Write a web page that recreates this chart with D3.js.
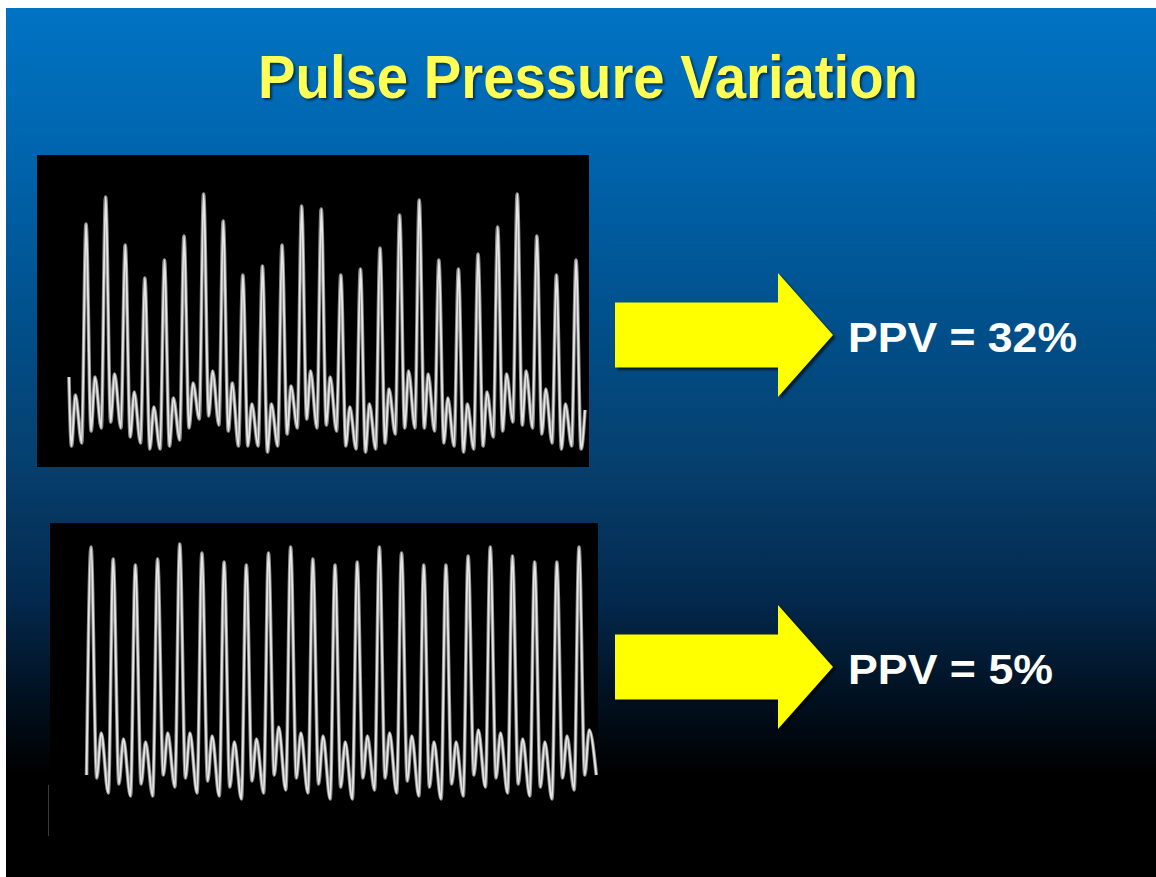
<!DOCTYPE html>
<html>
<head>
<meta charset="utf-8">
<script src="https://cdn.jsdelivr.net/npm/d3@7/dist/d3.min.js"></script>
<style>
  html, body { margin: 0; padding: 0; background: #ffffff; }
  svg { display: block; }
</style>
</head>
<body>
<script>
// ---------------- DATA ----------------
const title = "Pulse Pressure Variation";
const ppvLabels = ["PPV = 32%", "PPV = 5%"];

// Upper trace (high PPV): per-beat levels, arbitrary pressure units
const topSystolic  = [131,140,124,113,119,127,141,132,114,117,124,137,136,114,116,123,134,139,119,116,121,130,141,127,114,119];
const topNotch     = [ 62, 65, 60, 56, 57, 63, 67, 62, 57, 55, 61, 66, 64, 57, 55, 58, 63, 63, 58, 55, 57, 62, 64, 61, 56, 56];
const topDicrotic  = [ 80, 81, 75, 70, 73, 78, 82, 78, 71, 71, 77, 82, 80, 70, 71, 76, 82, 81, 73, 71, 75, 81, 82, 76, 71, 69];
const topDiastolic = [ 63, 63, 58, 56, 59, 66, 64, 57, 57, 57, 63, 63, 62, 56, 56, 61, 63, 62, 57, 56, 60, 65, 63, 58, 57, null];
const topLeadIn    = [80, 57, 74, 58];   // partial beat before the first upstroke

// Lower trace (low PPV)
const botSystolic  = [146,142,140,142,147,144,141,140,144,146,142,140,141,146,144,140,140,143,146,143,141,141,146];
const botNotch     = [ 69, 67, 67, 70, 69, 68, 66, 68, 70, 69, 67, 66, 69, 69, 68, 66, 67, 70, 69, 67, 66, 69, 70];
const botDicrotic  = [ 84, 82, 81, 84, 84, 83, 81, 82, 86, 84, 83, 81, 83, 84, 83, 81, 81, 85, 84, 82, 81, 83, 85];
const botDiastolic = [ 64, 63, 63, 66, 64, 63, 62, 64, 65, 64, 62, 62, 65, 64, 63, 62, 63, 66, 64, 63, 62, 65, 70];
const botLeadIn    = [70];

// ---------------- LAYOUT ----------------
const W = 1156, H = 877;
const phase = { notch: 0.26, dicrotic: 0.46, diastolic: 0.78 };
const topLeadPhases = [-0.87, -0.74, -0.54, -0.22];
const botLeadPhases = [-0.2];

const svg = d3.select("body").append("svg").attr("width", W).attr("height", H);
const defs = svg.append("defs");

const grad = defs.append("linearGradient").attr("id", "bg")
  .attr("x1", 0).attr("y1", 0).attr("x2", 0).attr("y2", 1);
[[0, "#0073C2"], [0.15, "#0066B0"], [0.35, "#00518D"], [0.52, "#06406F"],
 [0.68, "#03294D"], [0.80, "#010F1E"], [0.88, "#000000"], [1, "#000000"]]
  .forEach(([o, c]) => grad.append("stop").attr("offset", o).attr("stop-color", c));

const blur = defs.append("filter").attr("id", "soft").attr("x", "-5%").attr("y", "-5%")
  .attr("width", "110%").attr("height", "110%");
blur.append("feGaussianBlur").attr("stdDeviation", 0.45);

const shadow = defs.append("filter").attr("id", "shadow").attr("x", "-10%").attr("y", "-10%")
  .attr("width", "120%").attr("height", "130%");
shadow.append("feGaussianBlur").attr("stdDeviation", 1.2);

// slide background
svg.append("rect").attr("x", 6).attr("y", 8).attr("width", W - 6).attr("height", H - 8)
  .attr("fill", "url(#bg)");

// title
const titleFont = "'Liberation Sans Narrow','Arial Narrow','Liberation Sans',Arial,sans-serif";
[["rgba(0,0,0,0.55)", 2, "url(#shadow)"], ["#FFFF55", 0, null]].forEach(([fill, off, f]) => {
  svg.append("text").attr("x", 258 + off).attr("y", 98 + off)
    .attr("font-family", titleFont).attr("font-weight", "bold").attr("font-size", 61)
    .attr("textLength", 660).attr("lengthAdjust", "spacingAndGlyphs")
    .attr("fill", fill).attr("filter", f).text(title);
});

// panels
svg.append("rect").attr("x", 37).attr("y", 155).attr("width", 552).attr("height", 312).attr("fill", "#000");
svg.append("rect").attr("x", 50).attr("y", 523).attr("width", 548).attr("height", 354).attr("fill", "#000");
svg.append("line").attr("x1", 48.5).attr("x2", 48.5).attr("y1", 785).attr("y2", 836)
  .attr("stroke", "#3a3a3a").attr("stroke-width", 1);

// scales
const topX = d3.scaleLinear().domain([0, topSystolic.length - 1]).range([86, 576]);
const topY = d3.scaleLinear().domain([50, 154]).range([467, 155]);
const botX = d3.scaleLinear().domain([0, botSystolic.length - 1]).range([91, 579]);
const botY = d3.scaleLinear().domain([50, 154]).range([835, 523]);

function buildPoints(lead, leadPh, sys, notch, dic, dia) {
  const pts = lead.map((v, i) => ({ t: leadPh[i], v }));
  sys.forEach((s, i) => {
    pts.push({ t: i, v: s });
    if (notch[i] != null) pts.push({ t: i + phase.notch, v: notch[i] });
    if (dic[i] != null) pts.push({ t: i + phase.dicrotic, v: dic[i] });
    if (dia[i] != null) pts.push({ t: i + phase.diastolic, v: dia[i] });
  });
  return pts;
}

function drawTrace(pts, x, y) {
  const line = d3.line().x(d => x(d.t)).y(d => y(d.v)).curve(d3.curveMonotoneX);
  const g = svg.append("g").attr("filter", "url(#soft)");
  g.append("path").attr("d", line(pts)).attr("fill", "none")
    .attr("stroke", "#8a8a8a").attr("stroke-width", 3.6).attr("stroke-linejoin", "round");
  g.append("path").attr("d", line(pts)).attr("fill", "none")
    .attr("stroke", "#e6e6e6").attr("stroke-width", 1.8).attr("stroke-linejoin", "round");
}

drawTrace(buildPoints(topLeadIn, topLeadPhases, topSystolic, topNotch, topDicrotic, topDiastolic), topX, topY);
drawTrace(buildPoints(botLeadIn, botLeadPhases, botSystolic, botNotch, botDicrotic, botDiastolic), botX, botY);

// arrows + labels
const arrowCenters = [335, 667];
const labelBaselines = [352, 684];
const labelWidths = [229, 205];
function arrowPoly(cy) {
  const x0 = 615, x1 = 778, tip = 833, bh = 32.5, hh = 62;
  return [[x0, cy - bh], [x1, cy - bh], [x1, cy - hh], [tip, cy], [x1, cy + hh], [x1, cy + bh], [x0, cy + bh]];
}
arrowCenters.forEach((cy, i) => {
  const p = arrowPoly(cy);
  svg.append("polygon").attr("points", p.map(d => [d[0] + 2.5, d[1] + 2.5].join(",")).join(" "))
    .attr("fill", "rgba(0,0,0,0.6)").attr("filter", "url(#shadow)");
  svg.append("polygon").attr("points", p.map(d => d.join(",")).join(" ")).attr("fill", "#FFFF00");
  svg.append("text").attr("x", 848).attr("y", labelBaselines[i])
    .attr("font-family", "'Liberation Sans',Arial,sans-serif").attr("font-weight", "bold")
    .attr("font-size", 43).attr("textLength", labelWidths[i]).attr("lengthAdjust", "spacingAndGlyphs")
    .attr("fill", "#ffffff").text(ppvLabels[i]);
});
</script>
</body>
</html>
